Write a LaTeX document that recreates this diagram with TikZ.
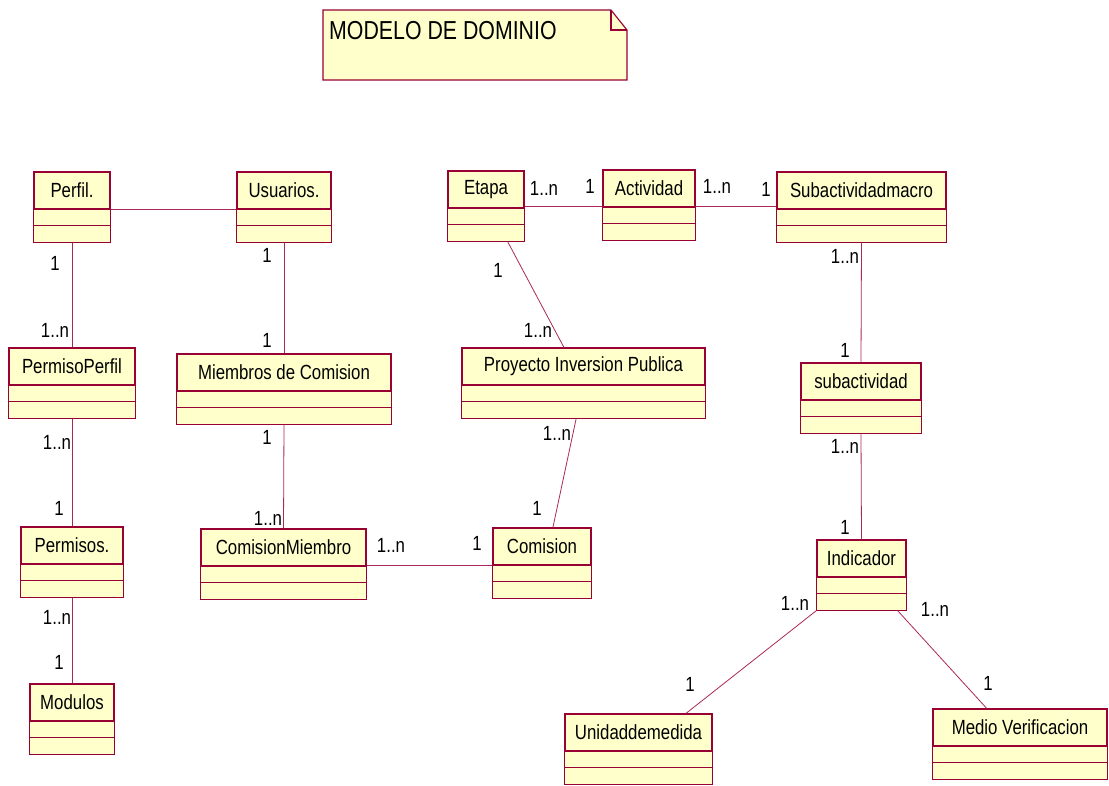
\documentclass[tikz,border=0pt]{standalone}
\usepackage{fontspec}
\setmainfont{Liberation Sans}[FakeStretch=0.82]
\usepackage{tikz}
\usepackage{xcolor}
\usetikzlibrary{positioning,calc}
\definecolor{umlfill}{RGB}{255,255,204}
\definecolor{umlline}{RGB}{153,0,51}
\definecolor{assoccolor}{RGB}{170,40,90}

\begin{document}
\begin{tikzpicture}[
    x=1pt, y=1pt,
    classbox/.style={
        rectangle, draw=umlline, fill=umlfill, line width=1.1pt,
        minimum height=37pt, inner sep=2pt,
        font=\fontsize{20.5}{22}\selectfont
    },
    compline/.style={draw=umlline, line width=1.1pt},
    assoc/.style={draw=assoccolor, line width=0.8pt},
    mult/.style={font=\fontsize{20.5}{22}\selectfont, inner sep=1pt}
]
\useasboundingbox (0,0) rectangle (1109,-785);

% Title note
\draw[compline, fill=umlfill] (323,-10) -- (611,-10) -- (627,-30) -- (627,-80) -- (323,-80) -- cycle;
\draw[compline] (611,-10) -- (611,-30) -- (627,-30);
\node[anchor=base west, inner sep=0pt, font=\fontsize{26}{28}\selectfont] (title) at (329,-39) {MODELO DE DOMINIO};

% Classes - top row
\node[classbox, minimum width=76pt] (perfil) at (72,-190.5) {Perfil.};
\node[classbox, minimum width=94pt] (usuarios) at (284,-190.5) {Usuarios.};
\node[classbox, minimum width=76pt] (etapa) at (486,-189.5) {Etapa};
\node[classbox, minimum width=92pt] (actividad) at (649,-188.5) {Actividad};
\node[classbox, minimum width=169pt] (submacro) at (861.5,-190.5) {Subactividadmacro};

% Classes - second row
\node[classbox, minimum width=126pt] (permisoperfil) at (72,-366.5) {PermisoPerfil};
\node[classbox, minimum width=214pt] (miembros) at (284,-372.5) {Miembros de Comision};
\node[classbox, minimum width=243pt] (proyecto) at (583.5,-366.5) {Proyecto Inversion Publica};
\node[classbox, minimum width=120pt] (subactividad) at (861,-381.5) {subactividad};

% Classes - third row
\node[classbox, minimum width=102pt] (permisos) at (72,-545.5) {Permisos.};
\node[classbox, minimum width=165pt] (comisionmiembro) at (283.5,-547.5) {ComisionMiembro};
\node[classbox, minimum width=98pt] (comision) at (542,-546.5) {Comision};
\node[classbox, minimum width=89pt] (indicador) at (861.5,-558.5) {Indicador};

% Classes - bottom row
\node[classbox, minimum width=84pt] (modulos) at (72,-702.5) {Modulos};
\node[classbox, minimum width=147pt] (unidad) at (638.5,-732.5) {Unidaddemedida};
\node[classbox, minimum width=174pt] (medio) at (1020,-727.5) {Medio Verificacion};

% Attribute and operation compartments
\foreach \c in {perfil,usuarios,etapa,actividad,submacro,permisoperfil,miembros,proyecto,
                subactividad,permisos,comisionmiembro,comision,indicador,modulos,unidad,medio} {
    \coordinate (\c-bl) at ($(\c.south west)+(0,-33)$);
    \coordinate (\c-br) at ($(\c.south east)+(0,-33)$);
    \coordinate (\c-bot) at ($(\c.south)+(0,-33)$);
    \draw[compline, fill=umlfill] (\c.south west) rectangle (\c-br);
    \draw[compline] ($(\c.south west)+(0,-16)$) -- ($(\c.south east)+(0,-16)$);
}

% Associations
\draw[assoc] (perfil.south east) -- (perfil.south east -| usuarios.west);
\draw[assoc] ($(etapa.south east)+(0,2)$) -- ($(etapa.south east -| actividad.west)+(0,2)$);
\draw[assoc] ($(etapa.south east -| actividad.east)+(0,2)$) -- ($(etapa.south east -| submacro.west)+(0,2)$);
\draw[assoc] (perfil-bot) -- (permisoperfil.north);
\draw[assoc] (usuarios-bot) -- (miembros.north);
\draw[assoc] ($(etapa-bl)!0.78!(etapa-br)$) -- ($(proyecto.north west)!0.42!(proyecto.north east)$);
\draw[assoc] (submacro-bot) -- (subactividad.north);
\draw[assoc] (permisoperfil-bot) -- (permisos.north);
\draw[assoc] (miembros-bot) -- (comisionmiembro.north);
\draw[assoc] ($(proyecto-bl)!0.47!(proyecto-br)$) -- ($(comision.north west)!0.61!(comision.north east)$);
\draw[assoc] ($(comisionmiembro.south east)+(0,1.5)$) -- ($(comisionmiembro.south east -| comision.west)+(0,1.5)$);
\draw[assoc] (permisos-bot) -- (modulos.north);
\draw[assoc] (subactividad-bot) -- (indicador.north);
\draw[assoc] (indicador-bl) -- ($(unidad.north west)!0.82!(unidad.north east)$);
\draw[assoc] ($(indicador-bl)!0.9!(indicador-br)$) -- ($(medio.north west)!0.31!(medio.north east)$);

% Multiplicities
\node[mult] (m1) at (55,-263) {1};
\node[mult] (m2) at (55,-330) {1..n};
\node[mult] (m3) at (267,-255) {1};
\node[mult] (m4) at (267,-340) {1};
\node[mult] (m5) at (544,-188) {1..n};
\node[mult] (m6) at (590,-186) {1};
\node[mult] (m7) at (717,-186) {1..n};
\node[mult] (m8) at (766,-189) {1};
\node[mult] (m9) at (498,-270) {1};
\node[mult] (m10) at (538,-330) {1..n};
\node[mult] (m11) at (845,-256) {1..n};
\node[mult] (m12) at (845,-350) {1};
\node[mult] (m13) at (57,-442) {1..n};
\node[mult] (m14) at (59,-508) {1};
\node[mult] (m15) at (267,-437) {1};
\node[mult] (m16) at (268,-518) {1..n};
\node[mult] (m17) at (557,-433) {1..n};
\node[mult] (m18) at (537,-508) {1};
\node[mult] (m19) at (391,-545) {1..n};
\node[mult] (m20) at (477,-543) {1};
\node[mult] (m21) at (57,-617) {1..n};
\node[mult] (m22) at (59,-662) {1};
\node[mult] (m23) at (845,-446) {1..n};
\node[mult] (m24) at (845,-527) {1};
\node[mult] (m25) at (795,-603) {1..n};
\node[mult] (m26) at (690,-684) {1};
\node[mult] (m27) at (935,-609) {1..n};
\node[mult] (m28) at (988,-683) {1};

\end{tikzpicture}
\end{document}
